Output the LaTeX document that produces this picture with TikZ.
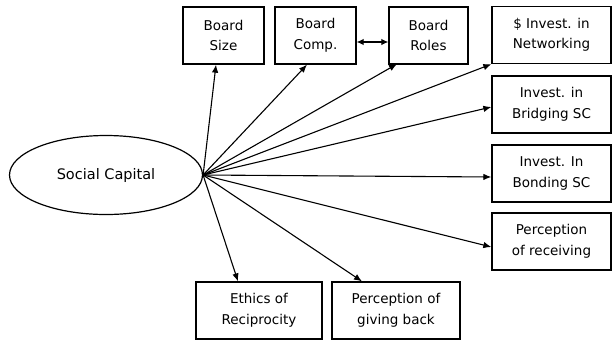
\documentclass[tikz,border=0pt]{standalone}
\usepackage{fontspec}
\setmainfont{DejaVu Sans}
\usetikzlibrary{arrows.meta,shapes.geometric}
\begin{document}
\begin{tikzpicture}[x=1pt,y=-1pt,
  box/.style={draw,line width=1.3pt,minimum height=57pt,align=center,inner sep=0pt,
    font=\fontsize{13.5}{20.5}\selectfont},
  link/.style={line width=1.1pt,-{Latex[length=8pt,width=6.5pt]}}]
\useasboundingbox (0,0) rectangle (613,341);
\fill[white] (0,0) rectangle (613,341);
% central construct
\node[draw,ellipse,line width=1.2pt,minimum width=193pt,minimum height=79pt,inner sep=0pt,
  font=\fontsize{14.5}{16}\selectfont] (sc) at (106,175) {Social Capital};
% indicator boxes, top row
\node[box,minimum width=81pt] (size) at (223.5,35.5) {Board\\Size};
\node[box,minimum width=81pt] (comp) at (315.5,35.5) {Board\\Comp.};
\node[box,minimum width=79pt] (roles) at (428.5,35.5) {Board\\Roles};
% right column
\node[box,minimum width=119pt] (net) at (551.5,35) {\$ Invest. in\\Networking};
\node[box,minimum width=119pt] (bridge) at (551.5,104.5) {Invest. in\\Bridging SC};
\node[box,minimum width=119pt] (bond) at (551.5,173.5) {Invest. In\\Bonding SC};
\node[box,minimum width=119pt] (recv) at (551.5,241.5) {Perception\\of receiving};
% bottom row
\node[box,minimum width=126pt] (ethics) at (259,310.5) {Ethics of\\Reciprocity};
\node[box,minimum width=128pt] (give) at (396,310.5) {Perception of\\giving back};
% loadings
\coordinate (o) at (sc.east);
\draw[link] (o) -- (size.south -| 216,0);
\draw[link] (o) -- (size.south -| 307,0);
\draw[link] (o) -- (397,64) coordinate (rt);
\draw[link] (o) -- (net.south west);
\draw[link] (o) -- (bridge.west |- 0,107);
\draw[link] (o) -- (bond.west |- 0,177);
\draw[link] (o) -- (recv.west |- 0,247);
\draw[link] (o) -- (ethics.north -| 238,0);
\draw[link] (o) -- (give.north -| 362,0);
% correlation between board composition and board roles
\draw[line width=1.1pt,{Latex[length=7pt,width=6.5pt]}-{Latex[length=7pt,width=6.5pt]}]
  (comp.east |- 0,42) -- (roles.west |- 0,42);
\end{tikzpicture}
\end{document}
